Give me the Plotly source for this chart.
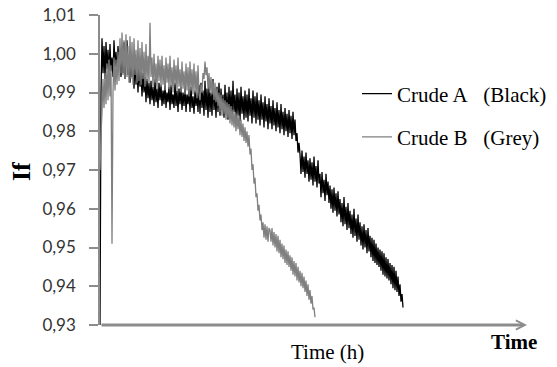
import plotly.graph_objects as go

# ---- data: If readings, one per time step ----
time_step = 1  # sampling interval of the readings (arbitrary time units)

crude_a_if = [
    0.9300, 0.9900, 1.0040, 0.9950, 1.0020, 0.9935, 1.0030, 0.9960, 1.0010, 0.9940,
    1.0025, 0.9955, 0.9990, 0.9940, 1.0035, 0.9965, 1.0005, 0.9945, 1.0020, 0.9970,
    1.0010, 0.9940, 1.0000, 0.9950, 1.0030, 0.9935, 0.9990, 1.0035, 0.9945, 0.9995,
    0.9925, 0.9985, 0.9940, 0.9975, 0.9910, 0.9980, 0.9920, 0.9965, 0.9900, 0.9970,
    0.9915, 0.9955, 0.9890, 0.9950, 0.9900, 0.9940, 0.9875, 0.9935, 0.9885, 0.9925,
    0.9870, 0.9930, 0.9880, 0.9915, 0.9865, 0.9935, 0.9875, 0.9910, 0.9860, 0.9925,
    0.9880, 0.9920, 0.9865, 0.9905, 0.9870, 0.9930, 0.9860, 0.9900, 0.9875, 0.9915,
    0.9855, 0.9920, 0.9870, 0.9895, 0.9860, 0.9925, 0.9865, 0.9905, 0.9850, 0.9910,
    0.9870, 0.9915, 0.9855, 0.9900, 0.9865, 0.9920, 0.9850, 0.9895, 0.9870, 0.9910,
    0.9850, 0.9915, 0.9860, 0.9890, 0.9845, 0.9905, 0.9865, 0.9900, 0.9850, 0.9920,
    0.9845, 0.9925, 0.9860, 0.9905, 0.9840, 0.9930, 0.9855, 0.9910, 0.9835, 0.9920,
    0.9850, 0.9900, 0.9840, 0.9935, 0.9855, 0.9905, 0.9835, 0.9915, 0.9850, 0.9925,
    0.9840, 0.9910, 0.9855, 0.9895, 0.9835, 0.9920, 0.9845, 0.9900, 0.9830, 0.9915,
    0.9845, 0.9905, 0.9835, 0.9930, 0.9850, 0.9895, 0.9830, 0.9910, 0.9840, 0.9900,
    0.9825, 0.9915, 0.9845, 0.9890, 0.9830, 0.9905, 0.9835, 0.9895, 0.9825, 0.9910,
    0.9840, 0.9885, 0.9820, 0.9905, 0.9835, 0.9890, 0.9820, 0.9900, 0.9830, 0.9880,
    0.9815, 0.9895, 0.9830, 0.9875, 0.9810, 0.9890, 0.9825, 0.9870, 0.9805, 0.9885,
    0.9820, 0.9865, 0.9805, 0.9880, 0.9815, 0.9860, 0.9800, 0.9875, 0.9810, 0.9855,
    0.9795, 0.9870, 0.9805, 0.9850, 0.9790, 0.9860, 0.9800, 0.9845, 0.9785, 0.9855,
    0.9795, 0.9840, 0.9780, 0.9850, 0.9790, 0.9830, 0.9775, 0.9795, 0.9745, 0.9770,
    0.9740, 0.9690, 0.9750, 0.9695, 0.9735, 0.9680, 0.9745, 0.9690, 0.9725, 0.9670,
    0.9730, 0.9675, 0.9720, 0.9660, 0.9735, 0.9670, 0.9710, 0.9655, 0.9725, 0.9665,
    0.9690, 0.9630, 0.9695, 0.9640, 0.9675, 0.9620, 0.9690, 0.9635, 0.9670, 0.9615,
    0.9660, 0.9600, 0.9650, 0.9590, 0.9655, 0.9595, 0.9640, 0.9580, 0.9645, 0.9585,
    0.9625, 0.9565, 0.9615, 0.9555, 0.9630, 0.9560, 0.9605, 0.9545, 0.9615, 0.9550,
    0.9595, 0.9535, 0.9585, 0.9525, 0.9600, 0.9530, 0.9575, 0.9515, 0.9585, 0.9520,
    0.9565, 0.9505, 0.9555, 0.9495, 0.9560, 0.9500, 0.9545, 0.9485, 0.9550, 0.9490,
    0.9530, 0.9475, 0.9525, 0.9465, 0.9520, 0.9460, 0.9510, 0.9455, 0.9500, 0.9450,
    0.9495, 0.9440, 0.9490, 0.9430, 0.9485, 0.9425, 0.9475, 0.9420, 0.9470, 0.9415,
    0.9460, 0.9405, 0.9455, 0.9395, 0.9450, 0.9390, 0.9440, 0.9385, 0.9425, 0.9375,
    0.9405, 0.9360, 0.9380, 0.9345,
]

crude_b_if = [
    0.9700, 0.9790, 0.9850, 0.9935, 0.9860, 0.9950, 0.9870, 0.9975, 0.9880, 0.9985,
    0.9890, 0.9970, 0.9510, 0.9900, 0.9990, 0.9905, 0.9985, 0.9920, 1.0005, 0.9930,
    1.0040, 0.9950, 1.0055, 0.9945, 1.0035, 0.9935, 1.0050, 0.9940, 1.0020, 0.9925,
    1.0045, 0.9935, 1.0030, 0.9920, 1.0040, 0.9945, 1.0010, 0.9925, 1.0035, 0.9930,
    1.0015, 0.9920, 1.0030, 0.9935, 1.0005, 0.9915, 1.0025, 0.9930, 0.9995, 0.9925,
    1.0080, 0.9940, 0.9990, 0.9915, 1.0000, 0.9925, 0.9975, 0.9910, 0.9995, 0.9930,
    0.9985, 0.9915, 0.9995, 0.9920, 0.9970, 0.9905, 0.9990, 0.9925, 0.9975, 0.9910,
    0.9995, 0.9915, 0.9965, 0.9900, 0.9985, 0.9920, 0.9970, 0.9905, 0.9990, 0.9915,
    0.9960, 0.9900, 0.9980, 0.9910, 0.9955, 0.9895, 0.9975, 0.9905, 0.9965, 0.9890,
    0.9980, 0.9905, 0.9960, 0.9895, 0.9975, 0.9900, 0.9955, 0.9885, 0.9970, 0.9895,
    0.9880, 0.9920, 0.9900, 0.9950, 0.9935, 0.9980, 0.9945, 0.9965, 0.9910, 0.9950,
    0.9900, 0.9940, 0.9895, 0.9930, 0.9880, 0.9925, 0.9875, 0.9910, 0.9865, 0.9900,
    0.9850, 0.9895, 0.9840, 0.9885, 0.9845, 0.9880, 0.9830, 0.9875, 0.9835, 0.9870,
    0.9820, 0.9865, 0.9815, 0.9855, 0.9810, 0.9850, 0.9800, 0.9845, 0.9805, 0.9840,
    0.9790, 0.9830, 0.9785, 0.9820, 0.9775, 0.9810, 0.9770, 0.9800, 0.9760, 0.9790,
    0.9740, 0.9755, 0.9700, 0.9715, 0.9665, 0.9680, 0.9630, 0.9640, 0.9595, 0.9610,
    0.9570, 0.9585, 0.9545, 0.9565, 0.9525, 0.9560, 0.9520, 0.9555, 0.9515, 0.9550,
    0.9545, 0.9515, 0.9550, 0.9505, 0.9540, 0.9500, 0.9535, 0.9490, 0.9530, 0.9485,
    0.9520, 0.9475, 0.9510, 0.9470, 0.9505, 0.9460, 0.9495, 0.9455, 0.9490, 0.9450,
    0.9480, 0.9440, 0.9475, 0.9430, 0.9465, 0.9425, 0.9460, 0.9415, 0.9450, 0.9410,
    0.9440, 0.9400, 0.9435, 0.9395, 0.9425, 0.9385, 0.9415, 0.9375, 0.9405, 0.9365,
    0.9390, 0.9355, 0.9375, 0.9340, 0.9345, 0.9320,
]

crude_a_time = [i * time_step for i in range(len(crude_a_if))]
crude_b_time = [i * time_step for i in range(len(crude_b_if))]

series_names = ["Crude A\u00a0\u00a0\u00a0(Black)", "Crude B\u00a0\u00a0\u00a0(Grey)"]
y_ticks = [0.93, 0.94, 0.95, 0.96, 0.97, 0.98, 0.99, 1.00, 1.01]
x_max = 427
y_min, y_max = 0.93, 1.01

fig = go.Figure()
fig.add_trace(go.Scatter(x=crude_a_time, y=crude_a_if, mode="lines",
                         name=series_names[0], legendgroup="a",
                         line=dict(color="#000000", width=1.3, simplify=False)))
fig.add_trace(go.Scatter(x=crude_b_time, y=crude_b_if, mode="lines",
                         name=series_names[1], legendgroup="b",
                         line=dict(color="#808080", width=1.3, simplify=False)))

W, H = 557, 367
L, R, T, B = 100, 30, 15, 42
pw, ph = W - L - R, H - T - B

def px_x(p):
    return (p - L) / pw

def px_y(p):
    return (H - B - p) / ph

fig.update_layout(
    width=W, height=H,
    margin=dict(l=L, r=R, t=T, b=B, pad=0, autoexpand=False),
    paper_bgcolor="white", plot_bgcolor="white",
    separators=", ",
    showlegend=True,
    legend=dict(x=px_x(357), y=px_y(115.5), xanchor="left", yanchor="middle",
                font=dict(family="Liberation Serif", size=21, color="#000000"),
                bgcolor="rgba(0,0,0,0)", borderwidth=0, tracegroupgap=13,
                traceorder="grouped"),
    xaxis=dict(range=[0, x_max], visible=False, automargin=False),
    yaxis=dict(range=[y_min, y_max], tickvals=y_ticks, tickformat=".2f",
               automargin=False,
               showgrid=False, zeroline=False, showline=True,
               linecolor="#8c8c8c", linewidth=1.5,
               ticks="outside", ticklen=9, tickwidth=1.5, tickcolor="#8c8c8c",
               ticklabelstandoff=10,
               tickfont=dict(family="Lato", size=17, color="#333333")),
    annotations=[
        dict(x=x_max, y=y_min, ax=0, ay=y_min, xref="x", yref="y",
             axref="x", ayref="y", text="", showarrow=True,
             arrowhead=5, arrowsize=0.6, arrowwidth=3, arrowcolor="#8c8c8c"),
        dict(x=px_x(327), y=px_y(352), xref="paper", yref="paper",
             text="Time (h)", showarrow=False, xanchor="center", yanchor="middle",
             font=dict(family="Liberation Serif", size=21, color="#000000")),
        dict(x=px_x(514), y=px_y(342), xref="paper", yref="paper",
             text="<b>Time</b>", showarrow=False, xanchor="center", yanchor="middle",
             font=dict(family="Liberation Serif", size=21, color="#000000")),
        dict(x=px_x(21), y=px_y(172), xref="paper", yref="paper",
             text="<b>If</b>", showarrow=False, textangle=-90,
             xanchor="center", yanchor="middle",
             font=dict(family="Liberation Serif", size=26, color="#000000")),
    ],
)

fig.write_html("out.html", config={"displayModeBar": False},
               post_script="document.body.style.margin='0';")
